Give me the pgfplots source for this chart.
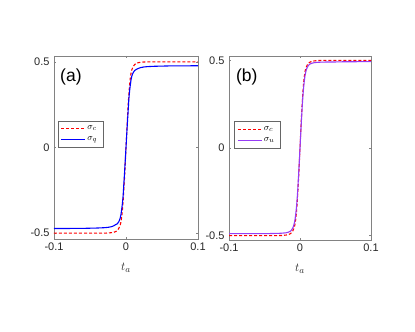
\documentclass[border=0pt]{standalone}
\usepackage{fontspec}
\setmainfont{Liberation Sans}
\usepackage{pgfplots}
\usepackage{pgfplotstable}
\pgfplotsset{compat=1.18}
\definecolor{axgray}{RGB}{130,130,130}
\definecolor{txtgray}{RGB}{38,38,38}
\definecolor{sigred}{RGB}{255,0,0}
\definecolor{sigblue}{RGB}{0,0,255}
\definecolor{sigpurple}{RGB}{150,60,245}

% t, sigma_c, sigma_q (panel a), sigma_u (panel b)
\pgfplotstableread{
t      sc      sq      su
-0.1   -0.5    -0.473  -0.489
-0.06  -0.5    -0.472  -0.489
-0.05  -0.5    -0.471  -0.489
-0.04  -0.4999 -0.470  -0.488
-0.03  -0.4997 -0.468  -0.487
-0.025 -0.499  -0.466  -0.486
-0.020 -0.497  -0.462  -0.484
-0.017 -0.495  -0.457  -0.481
-0.014 -0.490  -0.449  -0.476
-0.012 -0.484  -0.445  -0.469
-0.010 -0.472  -0.433  -0.455
-0.009 -0.463  -0.424  -0.444
-0.008 -0.452  -0.411  -0.429
-0.007 -0.434  -0.392  -0.408
-0.006 -0.406  -0.362  -0.378
-0.005 -0.366  -0.327  -0.340
-0.004 -0.313  -0.283  -0.290
-0.003 -0.247  -0.213  -0.227
-0.002 -0.172  -0.147  -0.157
-0.001 -0.088  -0.074  -0.079
0       0       0       0
0.001  0.088   0.075   0.080
0.002  0.172   0.148   0.158
0.003  0.247   0.215   0.229
0.004  0.313   0.285   0.292
0.005  0.366   0.330   0.342
0.006  0.406   0.365   0.381
0.007  0.434   0.395   0.411
0.008  0.452   0.415   0.432
0.009  0.463   0.428   0.447
0.010  0.472   0.437   0.458
0.012  0.484   0.449   0.472
0.014  0.490   0.455   0.479
0.017  0.495   0.461   0.484
0.020  0.497   0.466   0.487
0.025  0.499   0.470   0.489
0.03   0.4997  0.472   0.490
0.04   0.4999  0.474   0.491
0.05   0.5     0.475   0.491
0.06   0.5     0.476   0.492
0.1    0.5     0.477   0.493
}\sigdata

\pgfplotsset{
  legend image code/.code={\draw[#1] (0pt,0pt) -- (24pt,0pt);},
  panel/.style={
    anchor=south west, scale only axis,
    xmin=-0.1, xmax=0.1,
    xtick={-0.1,0,0.1}, xticklabels={-0.1,0,0.1},
    ytick={-0.5,0,0.5}, yticklabels={-0.5,0,0.5},
    axis line style={axgray, line width=0.5pt},
    tick style={axgray, line width=0.5pt},
    major tick length=2pt, tick align=inside,
    ticklabel style={font=\fontsize{11}{13}\selectfont, text=txtgray},
    yticklabel style={xshift=-1pt},
    xlabel={$t_a$},
    xlabel style={at={(axis description cs:0.5,0)}, anchor=center, yshift=-29pt,
                  font=\fontsize{13}{15}\selectfont, text=txtgray},
    legend cell align=left,
    legend style={draw=black!60, line width=0.5pt, fill=white,
      font=\fontsize{9.5}{11}\selectfont, inner xsep=3pt, inner ysep=3.5pt,
      row sep=2.5pt, nodes={inner sep=1.5pt}},
  },
  dashred/.style={color=sigred, line width=1.1pt, dash pattern=on 3pt off 2pt},
}

\begin{document}
\begin{tikzpicture}
\path (0pt,0pt) rectangle (415pt,332pt);

\begin{axis}[panel, at={(54pt,93pt)}, width=144pt, height=183pt,
  ymin=-0.534, ymax=0.534,
  legend style={at={(0.025,0.5)}, anchor=south west}]
\addplot[dashred] table[x=t, y=sc] {\sigdata};
\addlegendentry{$\sigma_c$\,}
\addplot[sigblue, line width=1.1pt] table[x=t, y=sq] {\sigdata};
\addlegendentry{$\sigma_q$\,}
\node[anchor=west, inner sep=0pt, font=\fontsize{17.5}{20}\selectfont, text=black]
  at (axis description cs:0.042,0.887) {(a)};
\end{axis}

\begin{axis}[panel, at={(229pt,92pt)}, width=142pt, height=184pt,
  ymin=-0.525, ymax=0.525,
  legend style={at={(0.035,0.5)}, anchor=south west}]
\addplot[dashred] table[x=t, y=sc] {\sigdata};
\addlegendentry{$\sigma_c$\,}
\addplot[sigpurple, line width=1.1pt] table[x=t, y=su] {\sigdata};
\addlegendentry{$\sigma_u$\,}
\node[anchor=west, inner sep=0pt, font=\fontsize{17.5}{20}\selectfont, text=black]
  at (axis description cs:0.049,0.888) {(b)};
\end{axis}
\end{tikzpicture}
\end{document}
